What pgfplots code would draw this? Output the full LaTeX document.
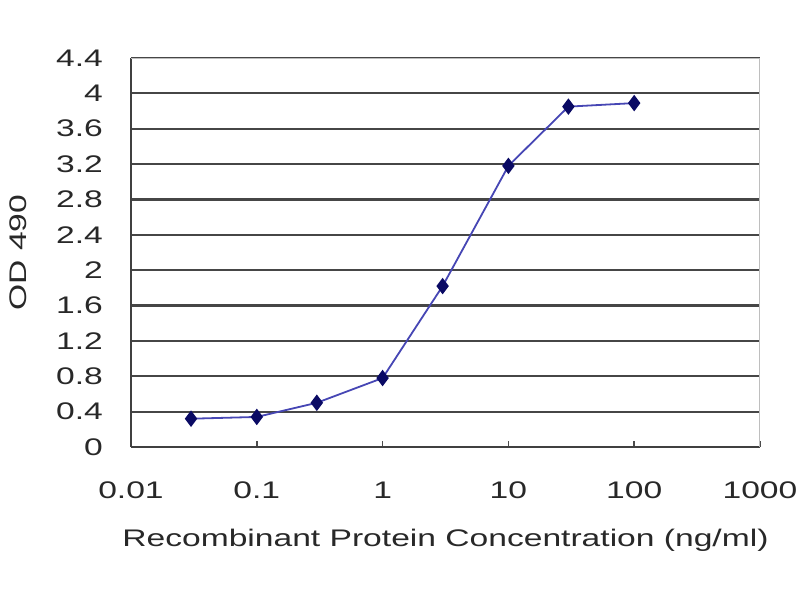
\documentclass[border=0pt]{standalone}
\usepackage{pgfplots}
\pgfplotsset{compat=1.18}
\usepackage{fontspec}
\setmainfont[FakeStretch=1.4]{Liberation Sans}
\definecolor{gridc}{RGB}{70,70,70}
\definecolor{linec}{RGB}{70,70,180}
\definecolor{markc}{RGB}{10,10,100}
\definecolor{boxc}{RGB}{190,190,190}
\definecolor{textc}{RGB}{40,40,40}
\begin{document}
\begin{tikzpicture}
\path[use as bounding box] (0,0) rectangle (400pt,300pt);
\begin{axis}[
  at={(65.5pt,76.5pt)}, anchor=south west,
  width=314.5pt, height=194.5pt, scale only axis,
  xmode=log, xmin=0.01, xmax=1000,
  ymin=0, ymax=4.4,
  xtick={0.01,0.1,1,10,100,1000},
  xticklabels={0.01,0.1,1,10,100,1000},
  ytick={0,0.4,0.8,1.2,1.6,2,2.4,2.8,3.2,3.6,4,4.4},
  yticklabels={0,0.4,0.8,1.2,1.6,2,2.4,2.8,3.2,3.6,4,4.4},
  xminorticks=false, yminorticks=false,
  /pgf/number format/assume math mode=true,
  font=\fontsize{12}{14}\selectfont\color{textc},
  axis x line*=bottom, axis y line*=left,
  axis line style={-, draw=black!75, line width=1pt},
  ymajorgrids, major grid style={gridc, line width=1.1pt},
  xtick style={draw=black!70, line width=0.8pt},
  major tick length=3pt, ytick style={draw=none},
  xtick pos=bottom, ytick pos=left,
  yticklabel style={anchor=east, xshift=-10.5pt},
  xticklabel style={anchor=north, yshift=-14pt},
  xlabel={Recombinant Protein Concentration (ng/ml)},
  ylabel={OD 490},
  xlabel style={at={(axis description cs:0.5,0)}, anchor=center, yshift=-46.5pt},
  ylabel style={at={(axis description cs:-0.1797,0.5)}, anchor=center},
]
\addplot[linec, line width=0.9pt, mark=diamond*, mark size=3.4pt,
  mark options={fill=markc, draw=markc}]
  coordinates {(0.03,0.32) (0.1,0.34) (0.3,0.50) (1,0.78) (3,1.82) (10,3.18) (30,3.85) (100,3.89)};
\draw[boxc, line width=1pt] (rel axis cs:0,1) -- (rel axis cs:1,1) -- (rel axis cs:1,0);
\end{axis}
\end{tikzpicture}
\end{document}
